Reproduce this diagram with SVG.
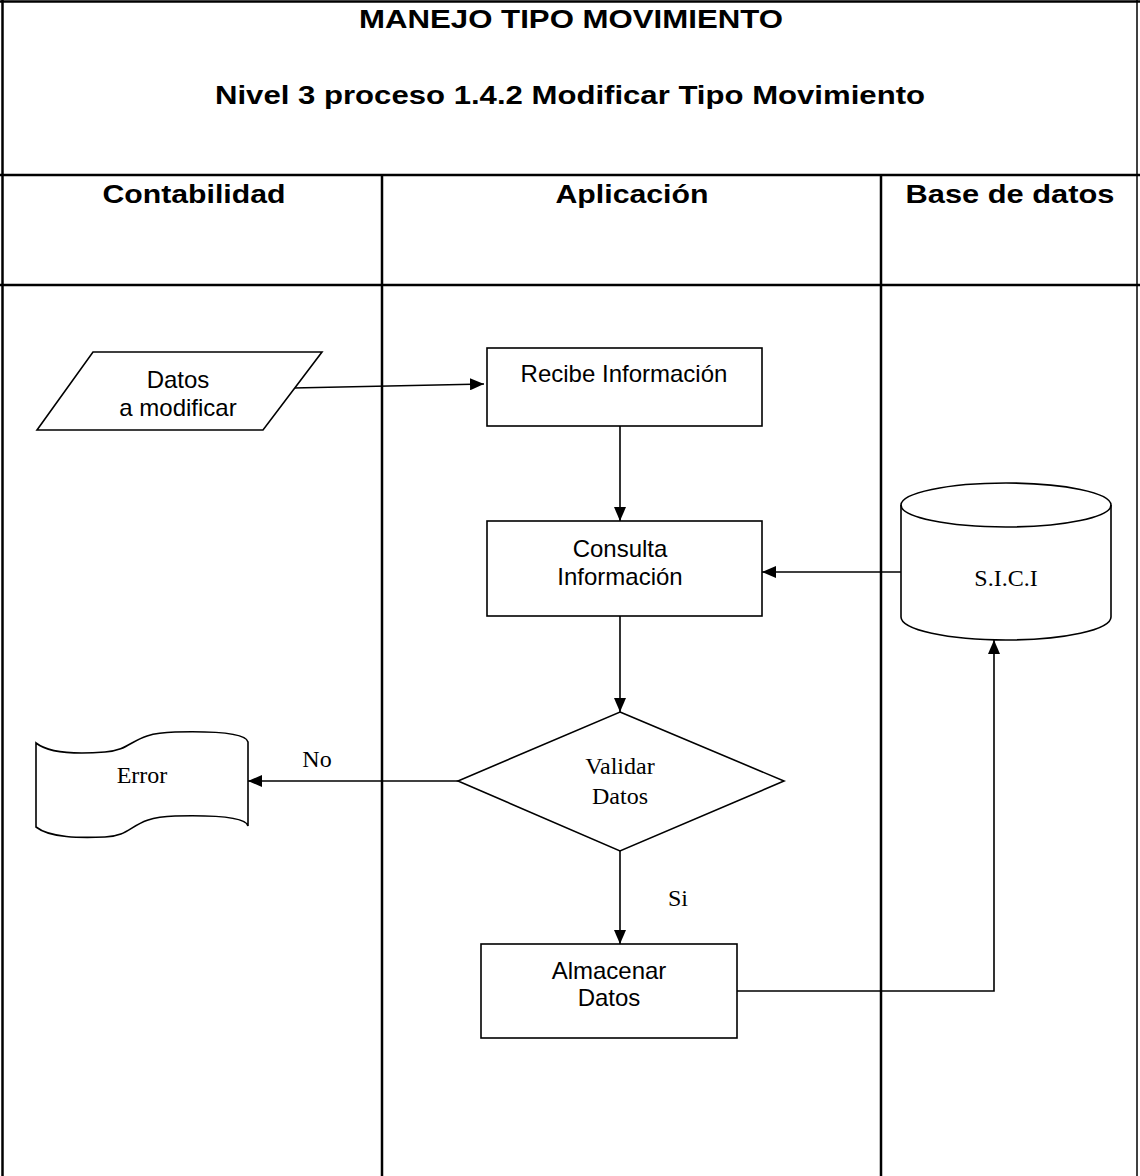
<svg xmlns="http://www.w3.org/2000/svg" width="1140" height="1176" viewBox="0 0 1140 1176">
<style>
.grid{stroke:#000;stroke-width:2.5;fill:none}
.shape{stroke:#000;stroke-width:1.6;fill:#fff}
.conn{stroke:#000;stroke-width:1.6;fill:none}
.hb{font-family:"Liberation Sans",Arial,sans-serif;font-weight:bold;font-size:26px;text-anchor:middle;fill:#000}
.ts{font-family:"Liberation Sans",Arial,sans-serif;font-size:24px;text-anchor:middle;fill:#000}
.tt{font-family:"Liberation Serif","Times New Roman",serif;font-size:24px;text-anchor:middle;fill:#000}
</style>
<defs>
<marker id="arr" viewBox="0 0 14 12" refX="14" refY="6" markerWidth="14" markerHeight="12" markerUnits="userSpaceOnUse" orient="auto">
<path d="M0,0 L14,6 L0,12 Z" fill="#000"/>
</marker>
</defs>
<rect width="1140" height="1176" fill="#fff"/>
<g id="table">
<line class="grid" x1="0" y1="1.5" x2="1140" y2="1.5"/>
<line class="grid" x1="2.5" y1="0" x2="2.5" y2="1176"/>
<line class="grid" x1="1137" y1="0" x2="1137" y2="1176" style="stroke-width:1.5"/>
<line class="grid" x1="0" y1="175" x2="1140" y2="175"/>
<line class="grid" x1="0" y1="285" x2="1140" y2="285"/>
<line class="grid" x1="382" y1="175" x2="382" y2="1176"/>
<line class="grid" x1="881" y1="175" x2="881" y2="1176"/>
<text class="hb" x="571" y="28" textLength="424" lengthAdjust="spacingAndGlyphs">MANEJO TIPO MOVIMIENTO</text>
<text class="hb" x="570" y="104" textLength="710" lengthAdjust="spacingAndGlyphs">Nivel 3 proceso 1.4.2 Modificar Tipo Movimiento</text>
<text class="hb" x="194" y="203" textLength="183" lengthAdjust="spacingAndGlyphs">Contabilidad</text>
<text class="hb" x="632" y="203" textLength="153" lengthAdjust="spacingAndGlyphs">Aplicación</text>
<text class="hb" x="1010" y="203" textLength="209" lengthAdjust="spacingAndGlyphs">Base de datos</text>
</g>
<g id="connectors">
<line class="conn" x1="293" y1="388" x2="484" y2="384" marker-end="url(#arr)"/>
<line class="conn" x1="620" y1="426" x2="620" y2="521" marker-end="url(#arr)"/>
<line class="conn" x1="901" y1="572" x2="762" y2="572" marker-end="url(#arr)"/>
<line class="conn" x1="620" y1="616" x2="620" y2="712" marker-end="url(#arr)"/>
<line class="conn" x1="458" y1="781" x2="248" y2="781" marker-end="url(#arr)"/>
<text class="tt" x="317" y="767">No</text>
<line class="conn" x1="620" y1="851" x2="620" y2="944" marker-end="url(#arr)"/>
<text class="tt" x="678" y="906">Si</text>
<path class="conn" d="M737,991 H994 V640" marker-end="url(#arr)"/>
</g>
<g id="datos-modificar">
<polygon class="shape" points="93,352 322,352 263,430 37,430"/>
<text class="ts" x="178" y="388">Datos</text>
<text class="ts" x="178" y="416">a modificar</text>
</g>
<g id="recibe">
<rect class="shape" x="487" y="348" width="275" height="78"/>
<text class="ts" x="624" y="382">Recibe Información</text>
</g>
<g id="consulta">
<rect class="shape" x="487" y="521" width="275" height="95"/>
<text class="ts" x="620" y="557">Consulta</text>
<text class="ts" x="620" y="585">Información</text>
</g>
<g id="sici">
<path class="shape" d="M901,505 A105,22 0 0 1 1111,505 V617 A105,23 0 0 1 901,617 Z"/>
<path class="conn" d="M901,505 A105,22 0 0 0 1111,505"/>
<text class="tt" x="1006" y="586">S.I.C.I</text>
</g>
<g id="validar">
<polygon class="shape" points="620,712 784,781 620,851 458,781"/>
<text class="tt" x="620" y="774">Validar</text>
<text class="tt" x="620" y="804">Datos</text>
</g>
<g id="error">
<path class="shape" d="M36,743 C50,754 80,754 105,752 C135,750 130,733 175,732 C215,731 246,733 248,742 V826 C246,817 215,815 175,816 C130,817 135,836 105,837 C80,838 50,838 36,827 Z"/>
<text class="tt" x="142" y="783">Error</text>
</g>
<g id="almacenar">
<rect class="shape" x="481" y="944" width="256" height="94"/>
<text class="ts" x="609" y="979">Almacenar</text>
<text class="ts" x="609" y="1006">Datos</text>
</g>
</svg>
